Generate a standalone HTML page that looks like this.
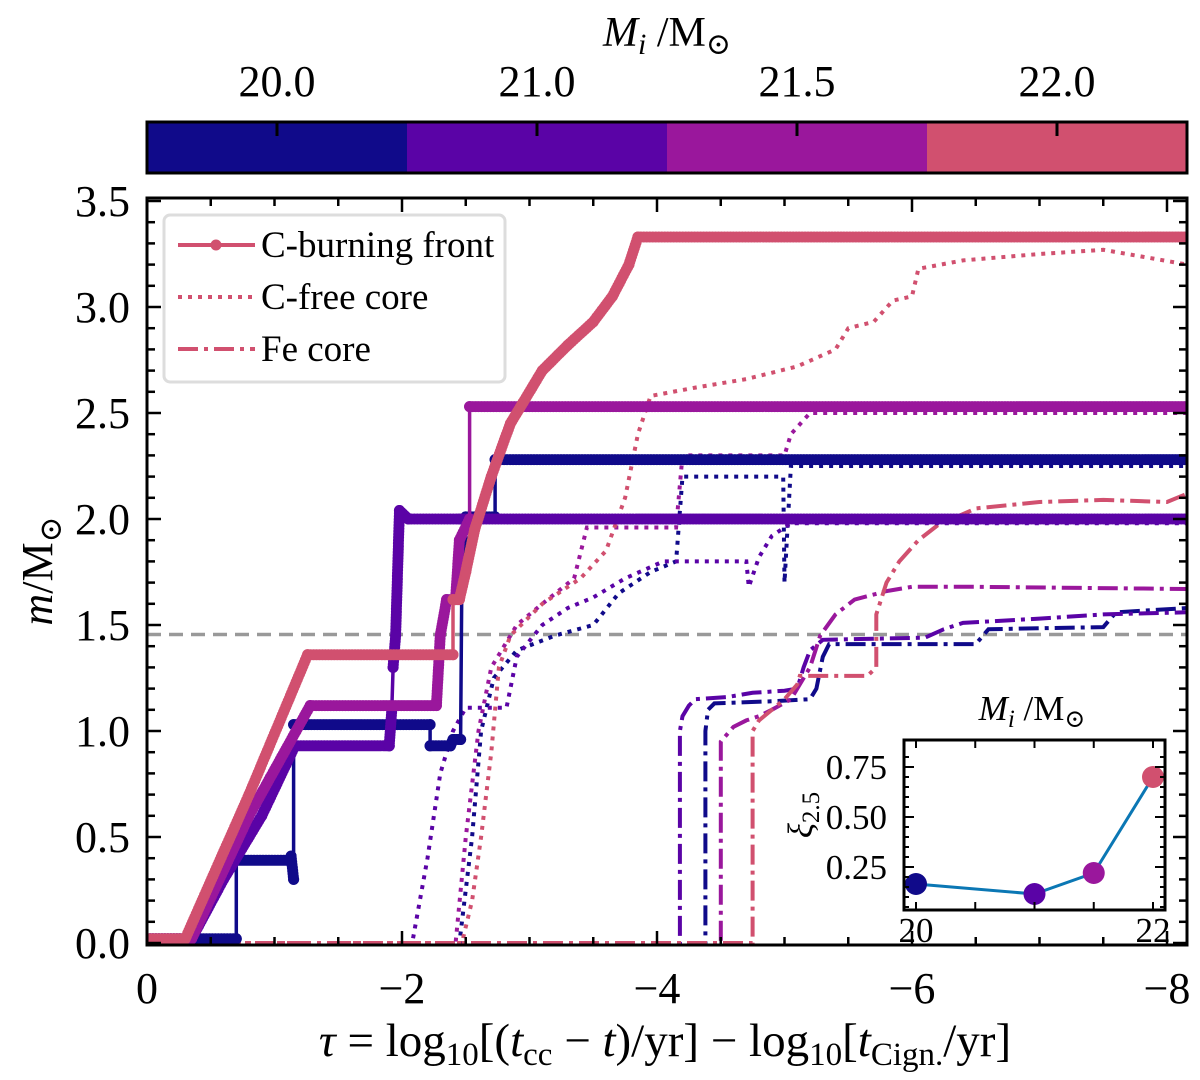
<!DOCTYPE html>
<html><head><meta charset="utf-8"><style>
html,body{margin:0;padding:0;background:#fff;}
svg{display:block;font-family:"Liberation Serif","DejaVu Serif",serif;}
</style></head><body>
<svg id="chart" width="1200" height="1080" viewBox="0 0 1200 1080" xmlns="http://www.w3.org/2000/svg">
<g id="cbar"></g>
<g id="plot"></g>
<g id="axes"></g>
<g id="inset"></g>
<g id="legend"></g>
</svg>
<script>
// ---- data (x values are -tau, i.e. tau = -x) ----
const masses = [20.0, 21.0, 21.5, 22.0];
const colors = ["#100a8a", "#5a03a6", "#9a179c", "#d1506f"];
const xTicks = [0, 2, 4, 6, 8];
const xTickLabels = ["0", "\u22122", "\u22124", "\u22126", "\u22128"];
const yTicks = [0, 0.5, 1, 1.5, 2, 2.5, 3, 3.5];
const yTickLabels = ["0.0","0.5","1.0","1.5","2.0","2.5","3.0","3.5"];
const chandra = 1.455;

const front20 = [[0,0.02],[0.7,0.02],[0.7,0.39],[1.12,0.39],[1.13,0.41],[1.15,0.30],[1.15,1.03],[2.22,1.03],[2.22,0.93],[2.38,0.93],[2.4,0.96],[2.46,0.96],[2.47,1.75],[2.5,1.85],[2.5,2.01],[2.73,2.01],[2.73,2.28],[8.16,2.28]];
const front21 = [[0,0.02],[0.35,0.02],[0.6,0.3],[0.9,0.6],[1.16,0.93],[1.9,0.93],[1.92,1.1],[1.93,1.3],[1.95,1.45],[1.98,2.04],[2.05,2.0],[2.45,2.0],[8.16,2.0]];
const front215 = [[0,0.02],[0.35,0.02],[0.8,0.6],[1.28,1.12],[2.27,1.12],[2.3,1.45],[2.35,1.62],[2.42,1.62],[2.45,1.9],[2.53,2.0],[2.53,2.53],[8.16,2.53]];
const front22 = [[0,0.02],[0.3,0.02],[0.8,0.7],[1.26,1.36],[2.4,1.36],[2.4,1.62],[2.45,1.62],[2.5,1.75],[2.57,1.95],[2.7,2.2],[2.85,2.45],[2.95,2.55],[3.1,2.7],[3.3,2.82],[3.5,2.93],[3.65,3.05],[3.78,3.2],[3.85,3.33],[8.16,3.33]];

const cfree20 = [[0,0],[2.45,0],[2.55,0.5],[2.62,1.0],[2.72,1.25],[2.9,1.38],[3.2,1.45],[3.5,1.5],[3.7,1.65],[3.95,1.75],[4.15,1.8],[4.2,2.2],[4.99,2.2],[5.0,1.7],[5.05,2.25],[8.16,2.25]];
const cfree21 = [[0,0],[2.08,0],[2.2,0.4],[2.3,0.8],[2.4,1.0],[2.5,1.11],[2.82,1.11],[2.9,1.35],[3.1,1.5],[3.3,1.58],[3.5,1.63],[3.75,1.72],[4.05,1.8],[4.7,1.8],[4.72,1.68],[4.8,1.82],[4.9,1.92],[5.05,1.98],[8.16,1.98]];
const cfree215 = [[0,0],[2.42,0],[2.5,0.5],[2.6,1.0],[2.7,1.3],[2.9,1.5],[3.1,1.6],[3.35,1.72],[3.45,1.96],[4.15,1.96],[4.2,2.3],[5.0,2.3],[5.05,2.4],[5.2,2.5],[8.16,2.5]];
const cfree22 = [[0,0],[2.47,0],[2.55,0.2],[2.62,0.5],[2.7,0.9],[2.76,1.3],[2.85,1.45],[3.1,1.6],[3.4,1.72],[3.6,1.85],[3.75,2.1],[3.85,2.4],[3.95,2.58],[4.3,2.62],[4.7,2.66],[5.1,2.72],[5.4,2.8],[5.5,2.9],[5.7,2.93],[5.85,3.03],[6.0,3.05],[6.05,3.18],[6.4,3.22],[7.0,3.25],[7.5,3.27],[8.16,3.2]];

const fe20 = [[0,0],[4.38,0],[4.38,1.0],[4.4,1.1],[4.45,1.13],[4.9,1.14],[5.2,1.15],[5.25,1.2],[5.3,1.35],[5.35,1.41],[6.5,1.41],[6.6,1.48],[7.5,1.49],[7.6,1.56],[8.16,1.58]];
const fe21 = [[0,0],[4.18,0],[4.18,1.0],[4.2,1.07],[4.25,1.12],[4.3,1.15],[4.55,1.16],[4.75,1.18],[5.0,1.19],[5.1,1.2],[5.15,1.3],[5.2,1.38],[5.3,1.43],[6.1,1.44],[6.25,1.48],[6.4,1.51],[7.0,1.53],[7.5,1.55],[8.16,1.56]];
const fe215 = [[0,0],[4.5,0],[4.5,0.95],[4.6,1.02],[4.7,1.05],[4.8,1.07],[4.9,1.1],[5.05,1.15],[5.1,1.2],[5.2,1.3],[5.28,1.45],[5.4,1.55],[5.55,1.62],[5.8,1.66],[6.0,1.68],[6.5,1.68],[8.16,1.67]];
const fe22 = [[0,0],[4.75,0],[4.75,1.0],[4.8,1.05],[4.9,1.1],[5.0,1.15],[5.1,1.22],[5.12,1.26],[5.65,1.26],[5.72,1.3],[5.72,1.55],[5.8,1.7],[5.9,1.8],[6.05,1.9],[6.2,1.97],[6.5,2.05],[7.0,2.08],[7.5,2.09],[8.0,2.08],[8.16,2.12]];

const insetMass = [20.0, 21.0, 21.5, 22.0];
const insetXi = [0.165, 0.115, 0.22, 0.70];

const fronts = [front20, front21, front215, front22];
const cfrees = [cfree20, cfree21, cfree215, cfree22];
const fes = [fe20, fe21, fe215, fe22];

// ---- scales ----
const X0 = 147, X1 = 1187, Ytop = 198, Ybot = 945;
function X(v){ return X0 + v * 127.5; }
function Y(m){ return 943 - m * 212; }
const NS = "http://www.w3.org/2000/svg";
function mk(tag, attrs, parent){ const e = document.createElementNS(NS, tag); for (const k in attrs) e.setAttribute(k, attrs[k]); parent.appendChild(e); return e; }
function pathD(pts, fx, fy){ return pts.map((p,i)=>(i?"L":"M")+fx(p[0]).toFixed(1)+","+fy(p[1]).toFixed(1)).join(" "); }

// ---- colorbar ----
const cb = document.getElementById("cbar");
const cbL = 147, cbR = 1187, cbT = 122, cbB = 173, segW = (cbR - cbL) / masses.length;
masses.forEach((m, i) => {
  const r = mk("rect", {x: cbL + i*segW, y: cbT, width: segW + 0.5, height: cbB - cbT, fill: colors[i]}, cb);
  
  
  const cx = cbL + (i + 0.5) * segW;
  mk("line", {x1: cx, x2: cx, y1: cbT, y2: cbT + 14, stroke: "#000", "stroke-width": 3}, cb);
  const t = mk("text", {x: cx, y: 96, "font-size": 44, "text-anchor": "middle"}, cb);
  t.textContent = m.toFixed(1);
  
  
});
mk("rect", {x: cbL, y: cbT, width: cbR - cbL, height: cbB - cbT, fill: "none", stroke: "#000", "stroke-width": 3}, cb);
const cbt = mk("text", {x: 667, y: 46, "font-size": 42, "text-anchor": "middle"}, cb);
cbt.innerHTML = '<tspan font-style="italic">M</tspan><tspan font-style="italic" font-size="30" dy="8">i</tspan><tspan dy="-8"> /M</tspan><tspan font-size="30" dy="8">\u2299</tspan>';



// ---- plot ----
const plot = document.getElementById("plot");
const clip = mk("clipPath", {id: "clipMain"}, plot);
mk("rect", {x: X0, y: Ytop, width: X1 - X0, height: Ybot - Ytop}, clip);
const pg = mk("g", {"clip-path": "url(#clipMain)"}, plot);

const ch = mk("line", {x1: X0, x2: X1, y1: Y(chandra), y2: Y(chandra), stroke: "#999", "stroke-width": 3.5, "stroke-dasharray": "14,8"}, pg);



fes.forEach((pts, i) => {
  const p = mk("path", {d: pathD(pts, X, Y), fill: "none", stroke: colors[i], "stroke-width": 4, "stroke-dasharray": "20,6,4,6"}, pg);
  
  
});
cfrees.forEach((pts, i) => {
  const p = mk("path", {d: pathD(pts, X, Y), fill: "none", stroke: colors[i], "stroke-width": 4, "stroke-dasharray": "4,6"}, pg);
  
  
});
fronts.forEach((pts, i) => {
  const g = mk("g", {}, pg);
  
  
  mk("path", {d: pathD(pts, X, Y), fill: "none", stroke: colors[i], "stroke-width": 3.5}, g);
  let d = "";
  for (let k = 1; k < pts.length; k++) {
    const x1 = X(pts[k-1][0]), y1 = Y(pts[k-1][1]), x2 = X(pts[k][0]), y2 = Y(pts[k][1]);
    const dx = x2 - x1, dy = y2 - y1;
    if (Math.abs(dx) < 2) continue;
    const len = Math.hypot(dx, dy), n = Math.max(1, Math.ceil(len / 3));
    for (let s = 0; s <= n; s++) { const px = x1 + dx*s/n, py = y1 + dy*s/n; d += "M" + px.toFixed(1) + "," + py.toFixed(1) + "h0"; }
  }
  mk("path", {d: d, fill: "none", stroke: colors[i], "stroke-width": 11, "stroke-linecap": "round"}, g);
  pts.forEach(p => { mk("circle", {cx: X(p[0]), cy: Y(p[1]), r: 5.5, fill: colors[i]}, g); });
});

// ---- axes ----
const ax = document.getElementById("axes");
mk("rect", {x: X0, y: Ytop, width: X1 - X0, height: Ybot - Ytop, fill: "none", stroke: "#000", "stroke-width": 3}, ax);
for (let v = 0; v <= 8.1; v += 0.5) {
  const major = Math.abs(v - Math.round(v/2)*2) < 1e-6, L = major ? 14 : 8, x = X(v);
  mk("line", {x1: x, x2: x, y1: Ybot, y2: Ybot - L, stroke: "#000", "stroke-width": 2.5}, ax);
  mk("line", {x1: x, x2: x, y1: Ytop, y2: Ytop + L, stroke: "#000", "stroke-width": 2.5}, ax);
}
for (let k = 0; k <= 35; k++) {
  const v = k / 10, major = k % 5 === 0, L = major ? 14 : 8, y = Y(v);
  if (y < Ytop - 1) continue;
  mk("line", {x1: X0, x2: X0 + L, y1: y, y2: y, stroke: "#000", "stroke-width": 2.5}, ax);
  mk("line", {x1: X1, x2: X1 - L, y1: y, y2: y, stroke: "#000", "stroke-width": 2.5}, ax);
}
xTicks.forEach((v, i) => {
  const t = mk("text", {x: X(v), y: 1003, "font-size": 44, "text-anchor": "middle"}, ax);
  t.textContent = xTickLabels[i];
  
  
});
yTicks.forEach((v, i) => {
  const t = mk("text", {x: 130, y: Y(v) + 15, "font-size": 44, "text-anchor": "end"}, ax);
  t.textContent = yTickLabels[i];
  
  
});
const xl = mk("text", {x: 665, y: 1056, "font-size": 47, "text-anchor": "middle"}, ax);
xl.innerHTML = '<tspan font-style="italic">\u03c4</tspan> = log<tspan font-size="33" dy="9">10</tspan><tspan dy="-9">[(</tspan><tspan font-style="italic">t</tspan><tspan font-size="33" dy="9">cc</tspan><tspan dy="-9"> \u2212 </tspan><tspan font-style="italic">t</tspan>)/yr] \u2212 log<tspan font-size="33" dy="9">10</tspan><tspan dy="-9">[</tspan><tspan font-style="italic">t</tspan><tspan font-size="33" dy="9">Cign.</tspan><tspan dy="-9">/yr]</tspan>';


const yl = mk("text", {x: 0, y: 0, "font-size": 44, "text-anchor": "middle", transform: "translate(52,571) rotate(-90)"}, ax);
yl.innerHTML = '<tspan font-style="italic">m</tspan>/M<tspan font-size="31" dy="9">\u2299</tspan>';



// ---- inset ----
const ins = document.getElementById("inset");
const iL = 904, iR = 1165, iT = 740, iB = 910;
function IX(m){ return 916 + (m - 20) * 118.5; }
function IY(v){ return 917 - v * 200; }
mk("rect", {x: iL, y: iT, width: iR - iL, height: iB - iT, fill: "#fff", stroke: "none"}, ins);
const ip = mk("path", {d: pathD(insetMass.map((m,i)=>[m, insetXi[i]]), IX, IY), fill: "none", stroke: "#0b77b4", "stroke-width": 3}, ins);


insetMass.forEach((m, i) => {
  const c = mk("circle", {cx: IX(m), cy: IY(insetXi[i]), r: 11, fill: colors[i]}, ins);
  
  
});
mk("rect", {x: iL, y: iT, width: iR - iL, height: iB - iT, fill: "none", stroke: "#000", "stroke-width": 3}, ins);
for (let m = 20; m <= 22.01; m += 0.5) {
  const x = IX(m);
  mk("line", {x1: x, x2: x, y1: iB, y2: iB - 8, stroke: "#000", "stroke-width": 2}, ins);
  mk("line", {x1: x, x2: x, y1: iT, y2: iT + 8, stroke: "#000", "stroke-width": 2}, ins);
}
for (let k = 1; k <= 16; k++) {
  const v = k * 0.05, y = IY(v); if (y < iT) continue;
  const L = (k % 5 === 0) ? 10 : 5;
  mk("line", {x1: iL, x2: iL + L, y1: y, y2: y, stroke: "#000", "stroke-width": 2}, ins);
  mk("line", {x1: iR, x2: iR - L, y1: y, y2: y, stroke: "#000", "stroke-width": 2}, ins);
}
[["0.75",0.75],["0.50",0.5],["0.25",0.25]].forEach(a => {
  const t = mk("text", {x: 887, y: IY(a[1]) + 12, "font-size": 35, "text-anchor": "end"}, ins);
  t.textContent = a[0];
  
  
});
[["20",20],["22",22]].forEach(a => {
  const t = mk("text", {x: IX(a[1]), y: 942, "font-size": 35, "text-anchor": "middle"}, ins);
  t.textContent = a[0];
  
  
});
const it = mk("text", {x: 1032, y: 720, "font-size": 35, "text-anchor": "middle"}, ins);
it.innerHTML = '<tspan font-style="italic">M</tspan><tspan font-style="italic" font-size="25" dy="7">i</tspan><tspan dy="-7"> /M</tspan><tspan font-size="25" dy="7">\u2299</tspan>';


const iyl = mk("text", {x: 0, y: 0, "font-size": 35, "text-anchor": "middle", transform: "translate(812,815) rotate(-90)"}, ins);
iyl.innerHTML = '<tspan font-style="italic">\u03be</tspan><tspan font-size="25" dy="7">2.5</tspan>';



// ---- legend ----
const lg = document.getElementById("legend");
mk("rect", {x: 164, y: 215, width: 341, height: 167, rx: 6, fill: "#fff", "fill-opacity": 0.85, stroke: "#ddd", "stroke-width": 3}, lg);
const legLabels = ["C-burning front", "C-free core", "Fe core"];
const legDash = ["none", "4,6", "20,6,4,6"];
legLabels.forEach((lab, i) => {
  const y = 245 + i * 52;
  const g = mk("g", {}, lg);
  
  
  mk("line", {x1: 178, x2: 255, y1: y, y2: y, stroke: colors[3], "stroke-width": 4, "stroke-dasharray": legDash[i]}, g);
  if (i === 0) mk("circle", {cx: 216, cy: y, r: 5.5, fill: colors[3]}, g);
  const t = mk("text", {x: 261, y: y + 12, "font-size": 37}, g);
  t.textContent = lab;
});
</script>
</body></html>
